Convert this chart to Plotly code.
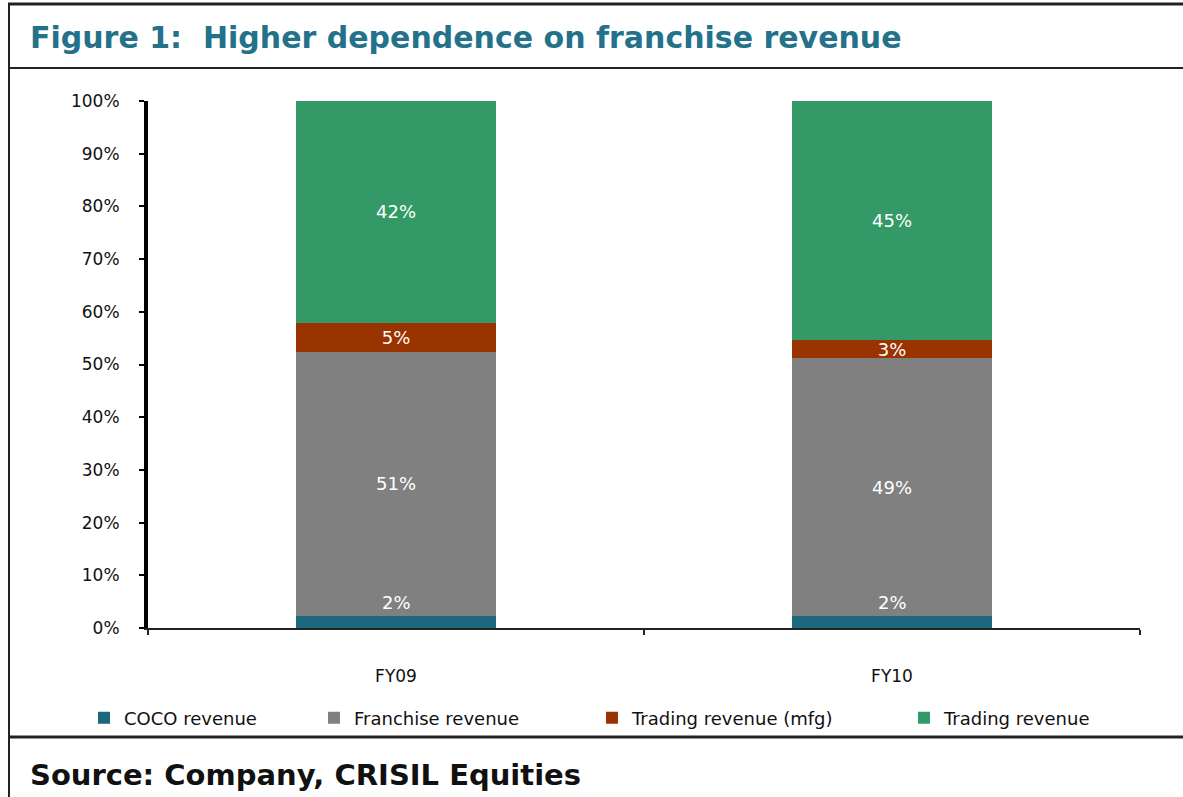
import plotly.graph_objects as go

W, H = 1183, 797
ML, MR, MT, MB = 148, 43, 101, 169

categories = ["FY09", "FY10"]
series_names = ["COCO revenue", "Franchise revenue", "Trading revenue (mfg)", "Trading revenue"]
coco = [2.3, 2.3]
franchise = [50.1, 48.9]
trading_mfg = [5.5, 3.4]
trading = [42.1, 45.4]
coco_labels = ["2%", "2%"]
franchise_labels = ["51%", "49%"]
trading_mfg_labels = ["5%", "3%"]
trading_labels = ["42%", "45%"]
colors = ["#1d677f", "#808080", "#993300", "#339966"]
y_ticks = [0, 10, 20, 30, 40, 50, 60, 70, 80, 90, 100]
y_tick_text = [f"{v}%" for v in y_ticks]

FONT = "DejaVu Sans"

def px_x(p):
    return (p - ML) / (W - ML - MR)

def px_y(p):
    return (H - MB - p) / (H - MT - MB)

fig = go.Figure()
series = [coco, franchise, trading_mfg, trading]
labels = [coco_labels, franchise_labels, trading_mfg_labels, trading_labels]
legend_ids = ["legend", "legend2", "legend3", "legend4"]
legend_x = [84, 314, 592, 904]
lab_font = dict(family=FONT, size=18, color="white")
for i, (name, vals, labs) in enumerate(zip(series_names, series, labels)):
    fig.add_trace(go.Bar(
        x=categories, y=vals, name=name,
        marker=dict(color=colors[i], line=dict(width=0)),
        text=None if i == 0 else labs,
        textposition="inside", insidetextanchor="middle",
        textfont=lab_font, hoverinfo="skip",
        legend=legend_ids[i], showlegend=True,
    ))

# COCO labels sit just above the thin COCO segment
for c, v, lab in zip(categories, coco, coco_labels):
    fig.add_annotation(x=c, y=v, text=lab, showarrow=False, yanchor="bottom",
                       yshift=1, font=lab_font)

legend_common = dict(orientation="h", yanchor="middle", y=px_y(718), xanchor="left",
                     font=dict(family=FONT, size=18, color="#111"), itemwidth=30,
                     bgcolor="rgba(0,0,0,0)")
layout_legends = {}
for lid, lx in zip(legend_ids, legend_x):
    layout_legends[lid] = dict(legend_common, x=px_x(lx))

fig.update_layout(
    barmode="stack", bargap=0.595,
    width=W, height=H,
    margin=dict(l=ML, r=MR, t=MT, b=MB),
    plot_bgcolor="white", paper_bgcolor="white",
    uniformtext=dict(minsize=18, mode="show"),
    font=dict(family=FONT, color="#111"),
    showlegend=True,
    **layout_legends,
)
fig.update_yaxes(range=[0, 100], tickvals=y_ticks, ticktext=y_tick_text,
                 showgrid=False, zeroline=False,
                 showline=True, linecolor="black", linewidth=4,
                 ticks="outside", ticklen=5, tickwidth=1.5, tickcolor="black",
                 ticklabelstandoff=16,
                 tickfont=dict(family=FONT, size=17, color="#111"))
fig.update_xaxes(showgrid=False, showline=True, linecolor="#222", linewidth=1.5,
                 ticks="outside", tickson="boundaries", ticklen=5, tickwidth=1.5, tickcolor="#222",
                 ticklabelstandoff=32,
                 tickfont=dict(family=FONT, size=17, color="#111"))

# Frame lines
frame = [
    (8, 4, W, 4, 3),
    (9, 4, 9, H, 2),
    (8, 68, W, 68, 2),
    (8, 737, W, 737, 3),
]
for x0, y0, x1, y1, w in frame:
    fig.add_shape(type="line", xref="paper", yref="paper",
                  x0=px_x(x0), x1=px_x(x1), y0=px_y(y0), y1=px_y(y1),
                  line=dict(color="#222", width=w))

fig.add_annotation(xref="paper", yref="paper", x=px_x(28), y=px_y(38),
                   xanchor="left", yanchor="middle", showarrow=False,
                   text="Figure 1:  Higher dependence on franchise revenue",
                   font=dict(family="DejaVu Sans", size=30, color="#23718a", weight="bold"))
fig.add_annotation(xref="paper", yref="paper", x=px_x(28), y=px_y(775),
                   xanchor="left", yanchor="middle", showarrow=False,
                   text="Source: Company, CRISIL Equities",
                   font=dict(family="DejaVu Sans", size=29, color="#111", weight="bold"))

fig.write_html("out.html", config={"displayModeBar": False},
               post_script="document.body.style.margin='0';")
